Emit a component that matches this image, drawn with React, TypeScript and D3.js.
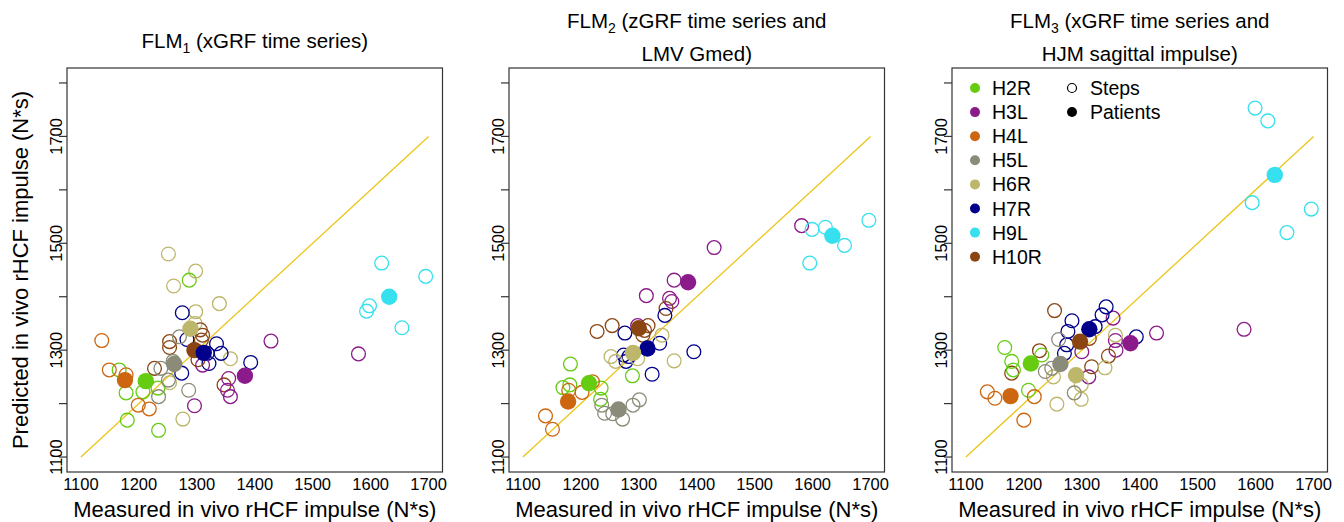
import React from "react";
import * as d3 from "d3";

const patients = ["H2R", "H3L", "H4L", "H5L", "H6R", "H7R", "H9L", "H10R"];
const patientColors = ["#66CC11", "#8B1A8B", "#CC6611", "#8B8B7A", "#BDB76B", "#00008B", "#36E0EE", "#8B4513"];

const xTicks = [1100, 1200, 1300, 1400, 1500, 1600, 1700];
const yTicks = [1100, 1200, 1300, 1400, 1500, 1600, 1700, 1800];
const yTickLabels = [1100, 1300, 1500, 1700];

// [patient, measured, predicted]
const flm1Steps: [string, number, number][] = [
  ["H6R", 1251, 1480], ["H6R", 1298, 1448], ["H6R", 1260, 1420], ["H6R", 1339, 1387], ["H6R", 1298, 1372],
  ["H6R", 1297, 1350], ["H6R", 1358, 1284], ["H6R", 1276, 1171], ["H6R", 1253, 1239],
  ["H2R", 1287, 1431], ["H2R", 1166, 1263], ["H2R", 1178, 1220], ["H2R", 1207, 1222], ["H2R", 1233, 1229],
  ["H2R", 1180, 1169], ["H2R", 1234, 1150],
  ["H4L", 1136, 1318], ["H4L", 1149, 1263], ["H4L", 1178, 1254], ["H4L", 1199, 1197], ["H4L", 1218, 1190],
  ["H7R", 1275, 1370], ["H7R", 1283, 1320], ["H7R", 1334, 1312], ["H7R", 1342, 1294], ["H7R", 1321, 1275],
  ["H7R", 1274, 1257], ["H7R", 1393, 1277], ["H7R", 1318, 1294],
  ["H10R", 1253, 1316], ["H10R", 1253, 1305], ["H10R", 1227, 1266], ["H10R", 1306, 1338], ["H10R", 1310, 1328],
  ["H10R", 1302, 1282], ["H10R", 1347, 1235], ["H10R", 1308, 1319],
  ["H5L", 1286, 1225], ["H5L", 1234, 1213], ["H5L", 1259, 1279], ["H5L", 1270, 1325], ["H5L", 1238, 1266],
  ["H5L", 1251, 1244],
  ["H3L", 1428, 1317], ["H3L", 1579, 1293], ["H3L", 1355, 1247], ["H3L", 1353, 1225], ["H3L", 1358, 1213],
  ["H3L", 1296, 1196], ["H3L", 1310, 1272],
  ["H9L", 1619, 1463], ["H9L", 1695, 1438], ["H9L", 1598, 1383], ["H9L", 1593, 1373], ["H9L", 1654, 1342],
];
const flm1Patients: [string, number, number][] = [
  ["H4L", 1176, 1244], ["H2R", 1212, 1242], ["H5L", 1261, 1274], ["H6R", 1289, 1340],
  ["H10R", 1296, 1300], ["H7R", 1312, 1295], ["H3L", 1383, 1252], ["H9L", 1632, 1400],
];

const flm2Steps: [string, number, number][] = [
  ["H3L", 1581, 1533], ["H3L", 1430, 1492], ["H3L", 1361, 1431], ["H3L", 1313, 1402], ["H3L", 1353, 1397],
  ["H3L", 1357, 1391], ["H3L", 1298, 1346],
  ["H9L", 1697, 1543], ["H9L", 1599, 1526], ["H9L", 1622, 1530], ["H9L", 1655, 1496], ["H9L", 1595, 1463],
  ["H10R", 1228, 1335], ["H10R", 1254, 1346], ["H10R", 1347, 1378], ["H10R", 1316, 1346], ["H10R", 1310, 1337],
  ["H10R", 1307, 1328],
  ["H7R", 1345, 1365], ["H7R", 1276, 1332], ["H7R", 1336, 1313], ["H7R", 1395, 1297], ["H7R", 1323, 1255],
  ["H7R", 1274, 1291], ["H7R", 1278, 1279], ["H7R", 1283, 1288],
  ["H6R", 1340, 1328], ["H6R", 1361, 1280], ["H6R", 1252, 1288], ["H6R", 1260, 1279], ["H6R", 1298, 1284],
  ["H2R", 1182, 1274], ["H2R", 1289, 1252], ["H2R", 1169, 1230], ["H2R", 1181, 1235], ["H2R", 1235, 1229],
  ["H2R", 1234, 1208],
  ["H4L", 1139, 1177], ["H4L", 1151, 1152], ["H4L", 1179, 1225], ["H4L", 1202, 1221], ["H4L", 1220, 1241],
  ["H5L", 1301, 1207], ["H5L", 1290, 1197], ["H5L", 1236, 1197], ["H5L", 1241, 1182], ["H5L", 1272, 1171],
  ["H5L", 1255, 1181],
];
const flm2Patients: [string, number, number][] = [
  ["H3L", 1385, 1427], ["H9L", 1634, 1514], ["H10R", 1300, 1341], ["H7R", 1315, 1303],
  ["H6R", 1290, 1295], ["H2R", 1214, 1238], ["H4L", 1178, 1204], ["H5L", 1265, 1189],
];

const flm3Steps: [string, number, number][] = [
  ["H9L", 1599, 1753], ["H9L", 1621, 1729], ["H9L", 1594, 1576], ["H9L", 1696, 1564], ["H9L", 1654, 1520],
  ["H3L", 1580, 1339], ["H3L", 1429, 1332], ["H3L", 1354, 1360], ["H3L", 1358, 1318], ["H3L", 1359, 1300],
  ["H3L", 1312, 1250], ["H3L", 1300, 1297],
  ["H7R", 1342, 1381], ["H7R", 1335, 1366], ["H7R", 1283, 1355], ["H7R", 1276, 1335], ["H7R", 1323, 1344],
  ["H7R", 1394, 1325], ["H7R", 1274, 1310], ["H7R", 1270, 1294],
  ["H10R", 1253, 1374], ["H10R", 1227, 1299], ["H10R", 1179, 1257], ["H10R", 1317, 1269], ["H10R", 1346, 1289],
  ["H10R", 1313, 1322],
  ["H6R", 1358, 1328], ["H6R", 1340, 1267], ["H6R", 1251, 1250], ["H6R", 1257, 1199], ["H6R", 1299, 1208],
  ["H6R", 1299, 1235],
  ["H5L", 1260, 1320], ["H5L", 1287, 1220], ["H5L", 1237, 1260], ["H5L", 1248, 1266],
  ["H2R", 1167, 1305], ["H2R", 1179, 1279], ["H2R", 1182, 1263], ["H2R", 1208, 1225], ["H2R", 1231, 1291],
  ["H4L", 1137, 1222], ["H4L", 1150, 1210], ["H4L", 1218, 1213], ["H4L", 1200, 1169],
];
const flm3Patients: [string, number, number][] = [
  ["H9L", 1633, 1628], ["H3L", 1384, 1313], ["H7R", 1313, 1339], ["H10R", 1297, 1316],
  ["H5L", 1263, 1274], ["H2R", 1212, 1275], ["H6R", 1290, 1253], ["H4L", 1177, 1214],
];

const panelTitles: { main: string; sub: string; rest: string; line2: string }[] = [
  { main: "FLM", sub: "1", rest: " (xGRF time series)", line2: "" },
  { main: "FLM", sub: "2", rest: " (zGRF time series and", line2: "LMV Gmed)" },
  { main: "FLM", sub: "3", rest: " (xGRF time series and", line2: "HJM sagittal impulse)" },
];
const panelSteps = [flm1Steps, flm2Steps, flm3Steps];
const panelPatients = [flm1Patients, flm2Patients, flm3Patients];

const FONT = "'Liberation Sans', Arial, Helvetica, sans-serif";
const panelLefts = [67, 509, 952];
const boxW = 375.5;
const boxTop = 68;
const boxBottom = 472;
const TITLE_FS = 20.5;

const color = d3.scaleOrdinal<string, string>().domain(patients).range(patientColors);

function Title({ cx, y, t }: { cx: number; y: number; t: { main: string; sub: string; rest: string } }) {
  return (
    <text x={cx} y={y} textAnchor="middle" fontSize={TITLE_FS} fontFamily={FONT}>
      {t.main}
      <tspan fontSize={14} dy={5}>{t.sub}</tspan>
      <tspan dy={-5}>{t.rest}</tspan>
    </text>
  );
}

function Panel({ idx }: { idx: number }) {
  const L = panelLefts[idx];
  const x = d3.scaleLinear().domain([1076, 1724]).range([L, L + boxW]);
  const y = d3.scaleLinear().domain([1072, 1828]).range([boxBottom, boxTop]);
  const t = panelTitles[idx];
  const cx = L + boxW / 2;
  const line = d3.line<number>().x((d) => x(d)).y((d) => y(d));
  return (
    <g>
      {t.line2 ? (
        <>
          <Title cx={cx} y={28} t={t} />
          <text x={cx} y={61} textAnchor="middle" fontSize={TITLE_FS} fontFamily={FONT}>
            {t.line2}
          </text>
        </>
      ) : (
        <Title cx={cx} y={48} t={t} />
      )}
      <path d={line([1100, 1700]) || ""} stroke="#EBC51A" strokeWidth={1.3} fill="none" />
      {panelSteps[idx].map(([p, mx, py], i) => (
        <circle key={"s" + i} cx={x(mx)} cy={y(py)} r={6.9} fill="none" stroke={color(p)} strokeWidth={1.3} />
      ))}
      {panelPatients[idx].map(([p, mx, py], i) => (
        <circle key={"p" + i} cx={x(mx)} cy={y(py)} r={8.2} fill={color(p)} />
      ))}
      <rect x={L} y={boxTop} width={boxW} height={boxBottom - boxTop} fill="none" stroke="#333" strokeWidth={1.2} />
      {yTicks.map((v) => (
        <line key={"yt" + v} x1={L - 8} x2={L} y1={y(v)} y2={y(v)} stroke="#333" strokeWidth={1.2} />
      ))}
      {yTickLabels.map((v) => (
        <text
          key={"yl" + v}
          transform={`translate(${L - 5},${y(v)}) rotate(-90)`}
          textAnchor="middle"
          fontSize={16.5}
          fontFamily={FONT}
        >
          {v}
        </text>
      ))}
      {xTicks.map((v) => (
        <text key={"xl" + v} x={x(v)} y={490} textAnchor="middle" fontSize={16.5} fontFamily={FONT}>
          {v}
        </text>
      ))}
      <text x={cx} y={517} textAnchor="middle" fontSize={22} fontFamily={FONT}>
        Measured in vivo rHCF impulse (N*s)
      </text>
      {idx === 0 && (
        <text
          transform={`translate(28,${(boxTop + boxBottom) / 2}) rotate(-90)`}
          textAnchor="middle"
          fontSize={22}
          fontFamily={FONT}
        >
          Predicted in vivo rHCF impulse (N*s)
        </text>
      )}
      {idx === 2 && (
        <g>
          {patients.map((p, i) => (
            <g key={"lg" + p}>
              <circle cx={975} cy={88 + i * 24.1} r={5} fill={color(p)} />
              <text x={992} y={88 + i * 24.1 + 7} fontSize={19.5} fontFamily={FONT}>
                {p}
              </text>
            </g>
          ))}
          <circle cx={1072} cy={88} r={4.5} fill="none" stroke="#000" strokeWidth={1.2} />
          <text x={1090} y={95} fontSize={19.5} fontFamily={FONT}>Steps</text>
          <circle cx={1072} cy={112} r={5} fill="#000" />
          <text x={1090} y={119} fontSize={19.5} fontFamily={FONT}>Patients</text>
        </g>
      )}
    </g>
  );
}

export default function App() {
  return (
    <svg
      width={1344}
      height={522}
      style={{ position: "absolute", left: 0, top: 0, background: "#fff" }}
      xmlns="http://www.w3.org/2000/svg"
    >
      <rect x={0} y={0} width={1344} height={522} fill="#fff" />
      {[0, 1, 2].map((i) => (
        <Panel key={i} idx={i} />
      ))}
    </svg>
  );
}
